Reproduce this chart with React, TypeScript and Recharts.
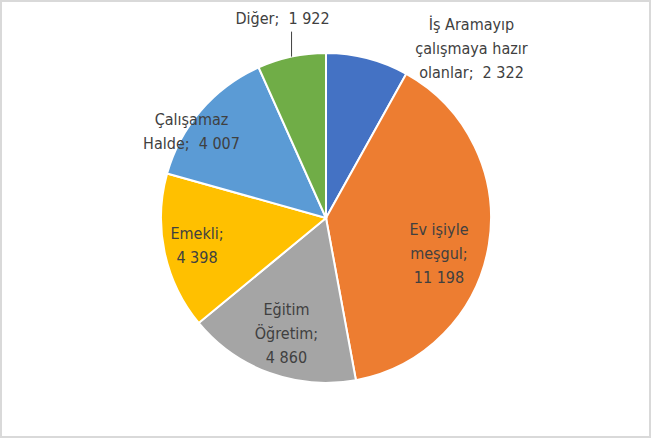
import React from 'react'
import { PieChart, Pie, Cell } from 'recharts'

const categories = [
  ['İş Aramayıp', 'çalışmaya hazır', 'olanlar;  2 322'],
  ['Ev işiyle', 'meşgul;', '11 198'],
  ['Eğitim', 'Öğretim;', '4 860'],
  ['Emekli;', '4 398'],
  ['Çalışamaz', 'Halde;  4 007'],
  ['Diğer;  1 922'],
]
const values = [2322, 11198, 4860, 4398, 4007, 1922]
const colors = ['#4472C4', '#ED7D31', '#A5A5A5', '#FFC000', '#5B9BD5', '#70AD47']

// label placement: radius factor + nudge
const labelLayout = [
  { r: 1, dx: 104, dy: -10, leader: 0 },
  { r: 0.7, dx: -1, dy: 16, leader: 0 },
  { r: 0.7, dx: 0, dy: 6, leader: 0 },
  { r: 0.7, dx: -16, dy: 3, leader: 0 },
  { r: 0.7, dx: -47, dy: -12, leader: 0 },
  { r: 1, dx: -9, dy: -39, leader: 25 },
]

const data = values.map((v, i) => ({ name: categories[i].join(' '), value: v }))

const RAD = Math.PI / 180
const LINE_H = 24

function renderLabel(props: any) {
  const { cx, cy, midAngle, outerRadius, index } = props
  const lay = labelLayout[index]
  const px = cx + outerRadius * lay.r * Math.cos(-midAngle * RAD)
  const py = cy + outerRadius * lay.r * Math.sin(-midAngle * RAD)
  const x = px + lay.dx
  const y = py + lay.dy
  const lines = categories[index]
  const top = y - ((lines.length - 1) * LINE_H) / 2
  return (
    <g>
      {lay.leader > 0 && (
        <line x1={px} y1={py} x2={px} y2={py - lay.leader} stroke="#404040" strokeWidth={1} />
      )}
      <text
        x={x}
        y={top}
        textAnchor="middle"
        dominantBaseline="central"
        fontSize={16}
        fill="#404040"
        style={{ whiteSpace: 'pre' }}
        fontFamily="'Liberation Sans Narrow', 'DejaVu Sans Condensed', sans-serif"
      >
        {lines.map((l, i) => (
          <tspan key={i} x={x} y={top + i * LINE_H}>
            {l}
          </tspan>
        ))}
      </text>
    </g>
  )
}

const App = () => {
  return (
    <div
      style={{
        position: 'fixed',
        left: 0,
        top: 0,
        width: 651,
        height: 438,
        boxSizing: 'border-box',
        border: '2px solid #d9d9d9',
        background: '#fff',
      }}
    >
      <PieChart
        width={647}
        height={434}
        margin={{ top: 0, right: 0, bottom: 0, left: 0 }}
        style={{ position: 'absolute', left: 0, top: 0 }}
      >
        <Pie
          data={data}
          dataKey="value"
          cx={324}
          cy={216}
          outerRadius={165}
          startAngle={90}
          endAngle={-270}
          stroke="#fff"
          strokeWidth={2}
          label={renderLabel}
          labelLine={false}
          isAnimationActive={false}
        >
          {data.map((d, i) => (
            <Cell key={d.name} fill={colors[i]} />
          ))}
        </Pie>
      </PieChart>
    </div>
  )
}

export default App
